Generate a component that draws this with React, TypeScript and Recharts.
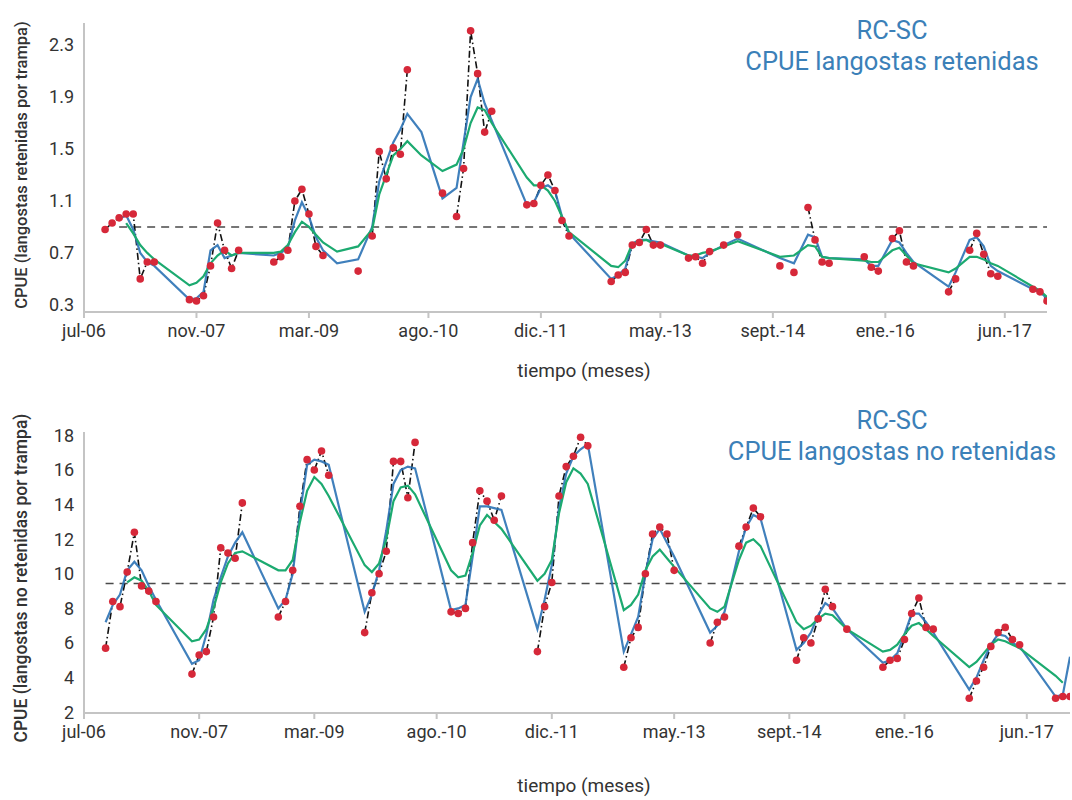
import React from "react";
import { ComposedChart, Line, XAxis, YAxis, ReferenceLine } from "recharts";

// month index 0 = jul-06
const tickMonths = [0, 16, 32, 49, 65, 82, 98, 114, 131];
const tickLabels = ["jul-06", "nov.-07", "mar.-09", "ago.-10", "dic.-11", "may.-13", "sept.-14", "ene.-16", "jun.-17"];

// CPUE langostas retenidas
const retMonths = [3, 4, 5, 6, 7, 8, 9, 10, 15, 16, 17, 18, 19, 20, 21, 22, 27, 28, 29, 30, 31, 32, 33, 34, 36, 39, 41, 42, 43, 44, 45, 46, 48, 51, 53, 54, 55, 56, 57, 58, 63, 64, 65, 66, 67, 68, 69, 75, 76, 77, 78, 79, 80, 81, 82, 86, 87, 88, 89, 91, 93, 99, 101, 103, 104, 105, 106, 111, 112, 113, 115, 116, 117, 118, 123, 124, 126, 127, 128, 129, 130, 135, 136, 137];
const retObs = [0.88, 0.93, 0.97, 1.0, 1.0, 0.5, 0.63, 0.63, 0.34, 0.33, 0.37, 0.6, 0.93, 0.72, 0.58, 0.72, 0.63, 0.67, 0.72, 1.1, 1.19, 1.0, 0.75, 0.68, null, 0.56, 0.83, 1.48, 1.27, 1.51, 1.46, 2.11, null, 1.16, 0.98, 1.35, 2.41, 2.08, 1.63, 1.79, 1.07, 1.08, 1.22, 1.3, 1.18, 0.95, 0.83, 0.48, 0.53, 0.55, 0.76, 0.78, 0.88, 0.76, 0.76, 0.66, 0.67, 0.62, 0.71, 0.76, 0.84, 0.6, 0.55, 1.05, 0.8, 0.63, 0.62, 0.67, 0.59, 0.56, 0.81, 0.87, 0.63, 0.6, 0.4, 0.5, 0.72, 0.85, 0.69, 0.54, 0.52, 0.42, 0.4, 0.33];
const retFit = [null, null, 0.96, 0.99, 0.88, 0.7, 0.63, 0.6, 0.34, 0.35, 0.4, 0.72, 0.76, 0.66, 0.68, 0.7, 0.68, 0.7, 0.74, 0.95, 1.09, 0.98, 0.82, 0.72, 0.62, 0.65, 0.9, 1.25, 1.4, 1.55, 1.65, 1.77, 1.63, 1.12, 1.2, 1.55, 1.9, 2.04, 1.85, 1.72, 1.07, 1.09, 1.2, 1.22, 1.18, 0.98, 0.85, 0.5, 0.53, 0.58, 0.77, 0.8, 0.8, 0.79, 0.78, 0.68, 0.67, 0.66, 0.7, 0.76, 0.81, 0.66, 0.62, 0.84, 0.82, 0.67, 0.66, 0.65, 0.6, 0.6, 0.8, 0.78, 0.7, 0.63, 0.44, 0.55, 0.8, 0.82, 0.75, 0.6, 0.56, 0.42, 0.4, 0.35];
const retTrend = [null, null, null, 0.93, 0.85, 0.76, 0.7, 0.65, 0.45, 0.47, 0.52, 0.62, 0.68, 0.72, 0.68, 0.7, 0.7, 0.71, 0.76, 0.86, 0.94, 0.9, 0.84, 0.78, 0.71, 0.75, 0.88, 1.15, 1.3, 1.45, 1.5, 1.56, 1.45, 1.33, 1.38, 1.5, 1.7, 1.82, 1.8, 1.7, 1.28, 1.22, 1.22, 1.18, 1.1, 0.98, 0.86, 0.6, 0.59, 0.64, 0.77, 0.79, 0.8, 0.77, 0.77, 0.68, 0.68, 0.7, 0.71, 0.75, 0.79, 0.67, 0.68, 0.76, 0.75, 0.67, 0.66, 0.64, 0.63, 0.63, 0.72, 0.74, 0.68, 0.62, 0.55, 0.58, 0.67, 0.67, 0.65, 0.62, 0.6, 0.44, 0.41, 0.36];
const retMean = 0.9;

// CPUE langostas no retenidas
const noRetMonths = [3, 4, 5, 6, 7, 8, 9, 10, 15, 16, 17, 18, 19, 20, 21, 22, 27, 28, 29, 30, 31, 32, 33, 34, 39, 40, 41, 42, 43, 44, 45, 46, 51, 52, 53, 54, 55, 56, 57, 58, 63, 64, 65, 66, 67, 68, 69, 70, 75, 76, 77, 78, 79, 80, 81, 82, 87, 88, 89, 91, 92, 93, 94, 99, 100, 101, 102, 103, 104, 106, 111, 112, 113, 114, 115, 116, 117, 118, 123, 124, 125, 126, 127, 128, 129, 130, 135, 136, 137];
const noRetObs = [5.7, 8.4, 8.1, 10.1, 12.4, 9.3, 9.0, 8.4, 4.2, 5.3, 5.5, 7.5, 11.5, 11.2, 10.9, 14.1, 7.5, 8.4, 10.2, 13.9, 16.6, 16.0, 17.1, 15.7, 6.6, 8.9, 10.0, 11.3, 16.5, 16.5, 14.4, 17.6, 7.8, 7.7, 8.0, 11.8, 14.8, 14.2, 13.1, 14.5, 5.5, 8.1, 9.5, 14.5, 16.2, 16.8, 17.9, 17.4, 4.6, 6.3, 6.9, 10.0, 12.3, 12.7, 12.3, 10.2, 6.0, 7.2, 7.5, 11.6, 12.7, 13.8, 13.3, 5.0, 6.3, 6.0, 7.4, 9.1, 8.1, 6.8, 4.6, 5.0, 5.1, 6.2, 7.7, 8.6, 6.9, 6.8, 2.8, 3.8, 4.6, 5.8, 6.6, 6.9, 6.2, 5.9, 2.8, 2.9, 2.9];
const noRetFit = [7.2, 8.2, 8.8, 10.2, 10.7, 10.2, 9.3, 8.5, 4.8, 5.0, 6.5, 8.5, 9.8, 11.0, 11.8, 12.4, 8.0, 8.5, 10.0, 13.5, 16.3, 16.6, 16.5, 16.3, 7.8, 8.8, 10.2, 12.5, 15.2, 16.0, 16.2, 16.1, 7.9, 8.0, 8.2, 11.0, 13.9, 13.9, 13.8, 13.7, 6.8, 8.5, 10.5, 13.8, 15.8, 16.8, 17.2, 17.5, 5.5, 6.5, 7.5, 10.0, 12.0, 12.6, 11.8, 11.0, 6.6, 7.0, 7.8, 11.3, 12.7, 13.4, 13.2, 5.6, 6.0, 6.6, 7.6, 8.3, 8.0, 6.8, 4.85, 5.0, 5.4, 6.5, 7.7, 7.7, 7.2, 6.6, 3.3, 4.0, 5.0, 5.9, 6.5, 6.4, 6.0, 5.8, 2.9, 3.0, 5.2];
const noRetTrend = [null, null, null, 9.5, 9.8, 9.6, 9.0, 8.2, 6.1, 6.2, 6.8, 8.0, 9.5, 10.6, 11.2, 11.3, 10.2, 10.2, 10.8, 13.0, 14.8, 15.6, 15.2, 14.5, 10.5, 10.1, 10.6, 12.0, 14.2, 15.0, 15.1, 14.6, 10.2, 9.8, 9.9, 11.2, 12.8, 13.4, 13.0, 12.6, 9.6, 10.0, 10.8, 13.5, 15.3, 16.1, 15.8, 15.2, 7.9, 8.2, 8.8, 10.2, 11.0, 11.4, 10.9, 10.4, 8.0, 7.8, 8.1, 10.8, 11.8, 12.0, 11.6, 7.2, 6.8, 7.0, 7.4, 7.7, 7.6, 6.8, 5.5, 5.6, 5.9, 6.5, 7.0, 7.15, 6.8, 6.4, 4.6, 4.9, 5.4, 5.9, 6.2, 6.1, 5.9, 5.7, 4.1, 3.7, null];
const noRetMean = 9.44;

const LAST_MONTH = 137;

function buildRows(months: number[], obs: (number | null)[], fit: (number | null)[], trend: (number | null)[]) {
  const rows = [];
  for (let t = 0; t <= LAST_MONTH; t++) {
    const i = months.indexOf(t);
    rows.push({
      t,
      obs: i >= 0 ? obs[i] : null,
      fit: i >= 0 ? fit[i] : null,
      trend: i >= 0 ? trend[i] : null,
    });
  }
  return rows;
}

const FONT = "Roboto, 'DejaVu Sans', sans-serif";
const AXIS = "#c4c4c4";
const TEXT = "#333333";
const TITLE = "#3b80b8";

type PanelProps = {
  rows: any[];
  top: number;
  right: number;
  plotTop: number;
  plotBottom: number;
  yDomain: [number, number];
  yTicks: number[];
  yFormat: (v: number) => string;
  mean: number;
  meanStart: number;
};

function Panel({ rows, top, right, plotTop, plotBottom, yDomain, yTicks, yFormat, mean, meanStart }: PanelProps) {
  const h = 400;
  return (
    <div style={{ position: "absolute", left: 0, top, width: 1072, height: h }}>
      <ComposedChart
        width={1072}
        height={h}
        data={rows}
        margin={{ top: plotTop, right, bottom: h - plotBottom - 34, left: 0 }}
      >
        <XAxis
          type="number"
          dataKey="t"
          domain={[0, LAST_MONTH]}
          ticks={tickMonths}
          tickFormatter={(v: number) => tickLabels[tickMonths.indexOf(v)]}
          height={34}
          stroke={AXIS}
          strokeWidth={2}
          tickSize={6}
          tickMargin={6}
          tick={{ fill: TEXT, fontSize: 18, fontFamily: FONT }}
          allowDataOverflow
        />
        <YAxis
          type="number"
          domain={yDomain}
          ticks={yTicks}
          tickFormatter={yFormat}
          width={84}
          stroke={AXIS}
          strokeWidth={2}
          tickLine={false}
          tickSize={0}
          tickMargin={10}
          tick={{ fill: TEXT, fontSize: 18, fontFamily: FONT }}
          allowDataOverflow
        />
        <ReferenceLine
          segment={[
            { x: meanStart, y: mean },
            { x: LAST_MONTH, y: mean },
          ]}
          stroke="#4a4a4a"
          strokeWidth={1.5}
          strokeDasharray="8 6"
        />
        <Line
          dataKey="obs"
          stroke="none"
          isAnimationActive={false}
          dot={{ r: 3.8, fill: "#d62839", stroke: "none" }}
          activeDot={false}
        />
        <Line
          dataKey="obs"
          stroke="#111111"
          strokeWidth={1.6}
          strokeDasharray="7 3 1.5 3"
          dot={false}
          connectNulls={false}
          isAnimationActive={false}
        />
        <Line
          dataKey="fit"
          stroke="#2b72b5"
          strokeOpacity={0.9}
          strokeWidth={2.2}
          dot={false}
          connectNulls
          isAnimationActive={false}
        />
        <Line
          dataKey="trend"
          stroke="#1caa70"
          strokeWidth={2.2}
          dot={false}
          connectNulls
          isAnimationActive={false}
        />
      </ComposedChart>
    </div>
  );
}

function Txt({ x, y, size, color, children, rotate, weight }: any) {
  return (
    <div
      style={{
        position: "absolute",
        left: x,
        top: y,
        transform: `translate(-50%, -50%)${rotate ? " rotate(-90deg)" : ""}`,
        whiteSpace: "nowrap",
        fontFamily: FONT,
        fontSize: size,
        color,
        fontWeight: weight || 400,
        lineHeight: 1,
      }}
    >
      {children}
    </div>
  );
}

export default function App() {
  const retRows = buildRows(retMonths, retObs, retFit, retTrend);
  const noRetRows = buildRows(noRetMonths, noRetObs, noRetFit, noRetTrend);
  return (
    <div style={{ position: "absolute", left: 0, top: 0, width: 1072, height: 800, background: "#fff", overflow: "hidden" }}>
      <Panel
        rows={retRows}
        top={0}
        right={25}
        plotTop={23}
        plotBottom={312}
        yDomain={[0.245, 2.47]}
        yTicks={[0.3, 0.7, 1.1, 1.5, 1.9, 2.3]}
        yFormat={(v) => v.toFixed(1)}
        mean={retMean}
        meanStart={5}
      />
      <Panel
        rows={noRetRows}
        top={400}
        right={2}
        plotTop={32}
        plotBottom={313}
        yDomain={[1.95, 18.2]}
        yTicks={[2, 4, 6, 8, 10, 12, 14, 16, 18]}
        yFormat={(v) => String(v)}
        mean={noRetMean}
        meanStart={3}
      />
      <Txt x={892} y={31} size={25.5} color={TITLE}>RC-SC</Txt>
      <Txt x={892} y={62} size={25.5} color={TITLE}>CPUE langostas retenidas</Txt>
      <Txt x={892} y={421} size={25.5} color={TITLE}>RC-SC</Txt>
      <Txt x={892} y={452} size={25.5} color={TITLE}>CPUE langostas no retenidas</Txt>
      <Txt x={22} y={165} size={16.5} color={TEXT} weight={500} rotate>CPUE (langostas retenidas por trampa)</Txt>
      <Txt x={22} y={578} size={17.5} color={TEXT} weight={500} rotate>CPUE (langostas no retenidas por trampa)</Txt>
      <Txt x={584} y={370} size={19} color={TEXT}>tiempo (meses)</Txt>
      <Txt x={584} y={785} size={19} color={TEXT}>tiempo (meses)</Txt>
    </div>
  );
}
